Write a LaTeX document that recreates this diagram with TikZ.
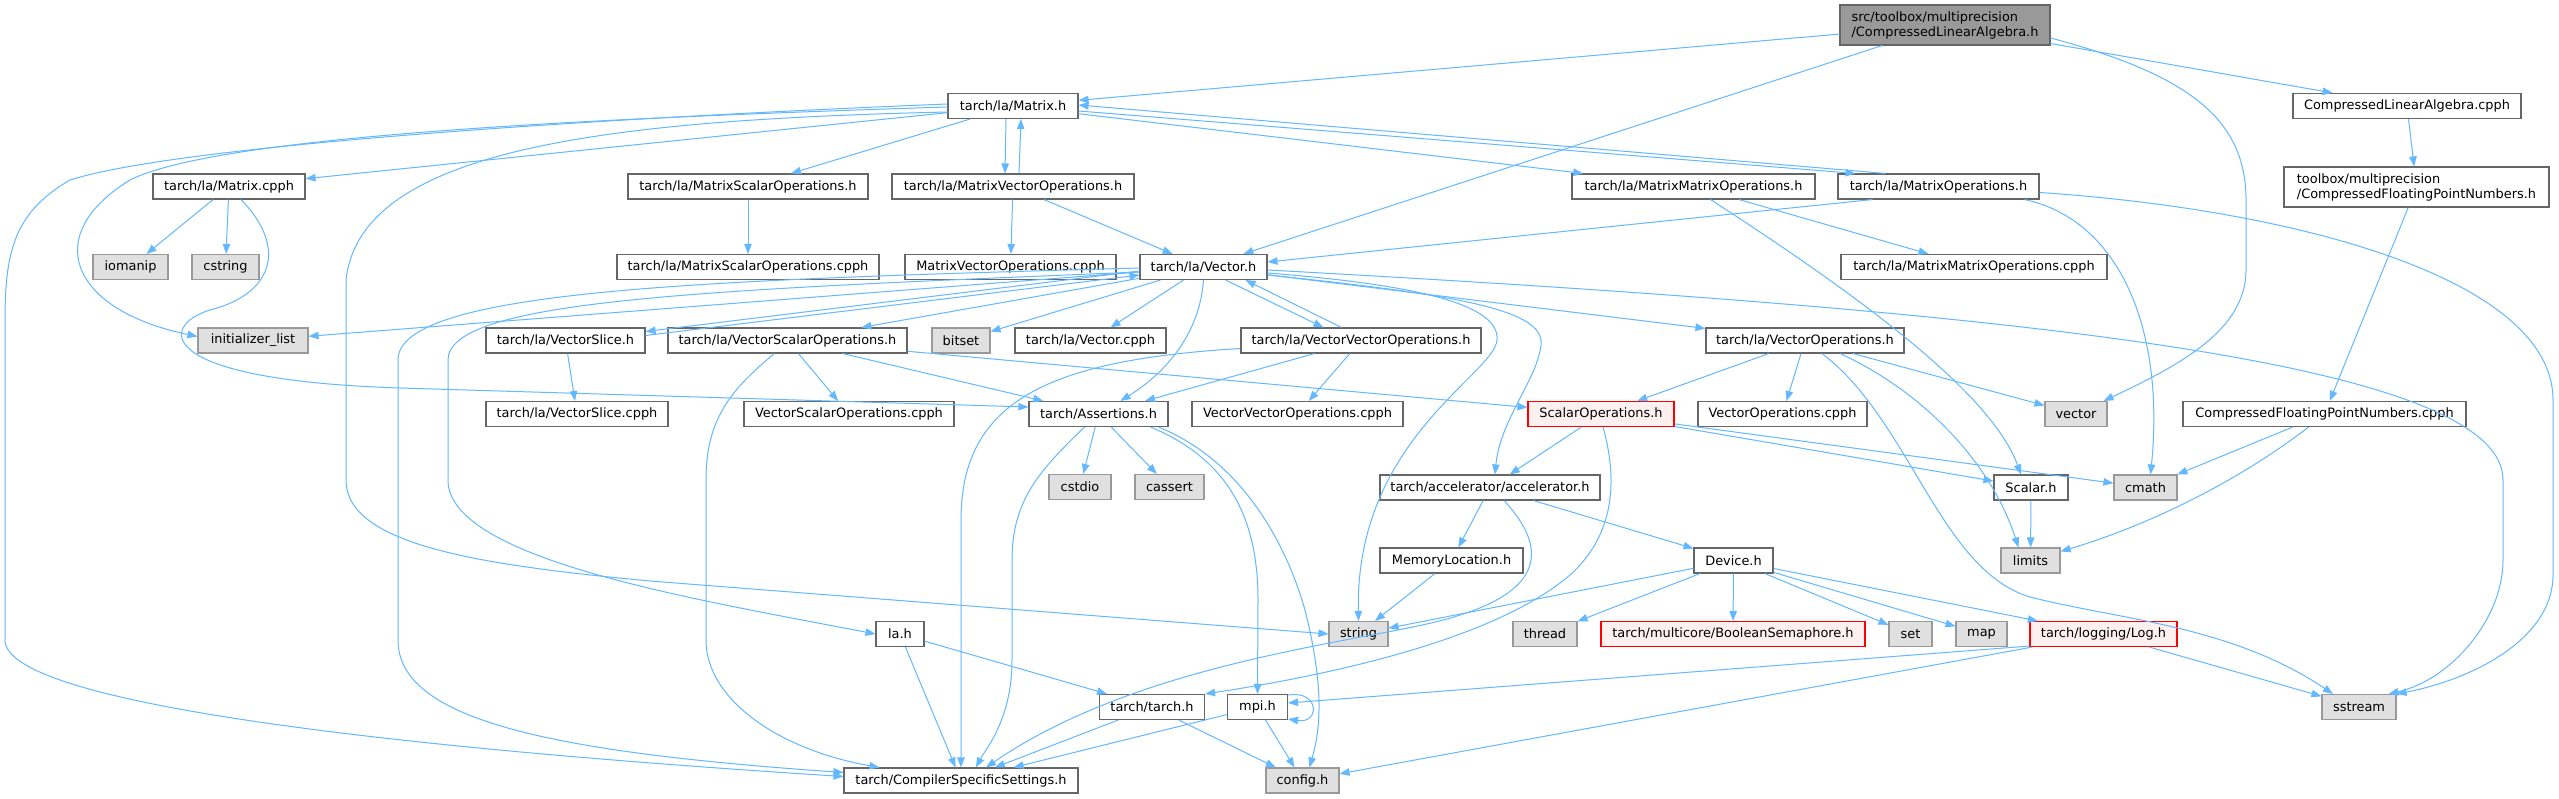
\documentclass[tikz,border=0pt]{standalone}
\usepackage{fontspec}
\setmainfont{DejaVu Sans}
\usepackage{tikz}
\usetikzlibrary{arrows.meta, calc}
\usepackage{xcolor}
\definecolor{edgeblue}{HTML}{63B8FF}
\definecolor{nodeborder}{HTML}{666666}
\definecolor{sysborder}{HTML}{999999}
\definecolor{sysfill}{HTML}{E0E0E0}
\definecolor{mainfill}{HTML}{999999}
\definecolor{redfill}{HTML}{FFF0F0}
\newcommand{\depfont}{\fontsize{12.9}{15}\selectfont}

\begin{document}
\begin{tikzpicture}[
    x=1pt, y=-1pt,
    filebox/.style={rectangle, draw=nodeborder, fill=white, line width=1.1pt,
                    minimum height=25pt, inner xsep=3pt, inner ysep=2pt, font=\depfont},
    sysbox/.style={filebox, draw=sysborder, fill=sysfill},
    redbox/.style={filebox, draw=red, fill=redfill},
    mainbox/.style={filebox, fill=mainfill, minimum height=40pt, align=left},
    twoline/.style={filebox, minimum height=40pt, align=left},
    dep/.style={-{Triangle[length=10pt, width=7.5pt]}, draw=edgeblue, line width=1pt},
]
    \path[use as bounding box, fill=white] (0,0) rectangle (2559,799);

    % Row 0/1: the file itself and what it pulls in first
    \node[mainbox, minimum width=210pt] (main) at (1945,25) {src/toolbox/multiprecision\\/CompressedLinearAlgebra.h};
    \node[filebox, minimum width=130pt] (matrixh) at (1013,106) {tarch/la/Matrix.h};
    \node[filebox, minimum width=228pt] (clacpph) at (2407,106) {CompressedLinearAlgebra.cpph};

    % Row 2: matrix headers
    \node[filebox, minimum width=152pt] (matrixcpph) at (229,186.5) {tarch/la/Matrix.cpph};
    \node[filebox, minimum width=240pt] (msoh) at (748,186.5) {tarch/la/MatrixScalarOperations.h};
    \node[filebox, minimum width=242pt] (mvoh) at (1013,186.5) {tarch/la/MatrixVectorOperations.h};
    \node[filebox, minimum width=243pt] (mmoh) at (1693.5,186.5) {tarch/la/MatrixMatrixOperations.h};
    \node[filebox, minimum width=201pt] (moh) at (1938.5,186.5) {tarch/la/MatrixOperations.h};
    \node[twoline, minimum width=265pt] (cfpnh) at (2416.5,187) {toolbox/multiprecision\\/CompressedFloatingPointNumbers.h};

    % Row 3
    \node[sysbox, minimum width=75pt] (iomanip) at (130.5,267) {iomanip};
    \node[sysbox, minimum width=67pt] (cstring) at (225.5,267) {cstring};
    \node[filebox, minimum width=262pt] (msocpph) at (748,267) {tarch/la/MatrixScalarOperations.cpph};
    \node[filebox, minimum width=211pt] (mvocpph) at (1010.5,267) {MatrixVectorOperations.cpph};
    \node[filebox, minimum width=127pt] (vectorh) at (1203.5,267) {tarch/la/Vector.h};
    \node[filebox, minimum width=266pt] (mmocpph) at (1974,267) {tarch/la/MatrixMatrixOperations.cpph};

    % Row 4: vector headers
    \node[sysbox, minimum width=110pt] (initlist) at (253,340.5) {initializer\_list};
    \node[filebox, minimum width=159pt] (vsliceh) at (565.5,340.5) {tarch/la/VectorSlice.h};
    \node[filebox, minimum width=239pt] (vsoh) at (787.5,340.5) {tarch/la/VectorScalarOperations.h};
    \node[sysbox, minimum width=58pt] (bitset) at (961,340.5) {bitset};
    \node[filebox, minimum width=151pt] (vectorcpph) at (1090.5,340.5) {tarch/la/Vector.cpph};
    \node[filebox, minimum width=240pt] (vvoh) at (1361,340.5) {tarch/la/VectorVectorOperations.h};
    \node[filebox, minimum width=198pt] (voh) at (1805,340.5) {tarch/la/VectorOperations.h};

    % Row 5
    \node[filebox, minimum width=182pt] (vslicecpph) at (577,414) {tarch/la/VectorSlice.cpph};
    \node[filebox, minimum width=210pt] (vsocpph) at (849,414) {VectorScalarOperations.cpph};
    \node[filebox, minimum width=139pt] (assertions) at (1098.5,414) {tarch/Assertions.h};
    \node[filebox, minimum width=211pt] (vvocpph) at (1297.5,414) {VectorVectorOperations.cpph};
    \node[redbox, minimum width=146pt] (scalaropsh) at (1601,414) {ScalarOperations.h};
    \node[filebox, minimum width=169pt] (vocpph) at (1782.5,414) {VectorOperations.cpph};
    \node[sysbox, minimum width=62pt] (vector) at (2076,414) {vector};
    \node[filebox, minimum width=283pt] (cfpncpph) at (2324.5,414) {CompressedFloatingPointNumbers.cpph};

    % Row 6
    \node[sysbox, minimum width=62pt] (cstdio) at (1080,487) {cstdio};
    \node[sysbox, minimum width=69pt] (cassert) at (1169.5,487) {cassert};
    \node[filebox, minimum width=220pt] (accelh) at (1490,487.5) {tarch/accelerator/accelerator.h};
    \node[filebox, minimum width=74pt] (scalarh) at (2031,487.5) {Scalar.h};
    \node[sysbox, minimum width=63pt] (cmath) at (2145.5,487.5) {cmath};

    % Row 7
    \node[filebox, minimum width=143pt] (memloc) at (1451.5,560.5) {MemoryLocation.h};
    \node[filebox, minimum width=79pt] (deviceh) at (1733.5,560.5) {Device.h};
    \node[sysbox, minimum width=59pt] (limits) at (2030.5,560.5) {limits};

    % Row 8
    \node[filebox, minimum width=48pt] (lah) at (900,634) {la.h};
    \node[sysbox, minimum width=59pt] (string) at (1358.5,634) {string};
    \node[sysbox, minimum width=64pt] (thread) at (1545,634) {thread};
    \node[redbox, minimum width=264pt] (boolsem) at (1733,634) {tarch/multicore/BooleanSemaphore.h};
    \node[sysbox, minimum width=43pt] (set) at (1910.5,634) {set};
    \node[sysbox, minimum width=51pt] (map) at (1981.5,634) {map};
    \node[redbox, minimum width=147pt] (logh) at (2103.5,634) {tarch/logging/Log.h};

    % Row 9/10
    \node[filebox, minimum width=105pt] (tarchh) at (1152,707) {tarch/tarch.h};
    \node[filebox, minimum width=60pt] (mpih) at (1257.5,707) {mpi.h};
    \node[sysbox, minimum width=74pt] (sstream) at (2359,707) {sstream};
    \node[filebox, minimum width=234pt] (compiler) at (961,780.5) {tarch/CompilerSpecificSettings.h};
    \node[sysbox, minimum width=73pt] (configh) at (1302.5,780.5) {config.h};

    % Connections: main file
    \draw[dep] (main) -- (matrixh);
    \draw[dep] (main) -- (vectorh);
    \draw[dep] ($(main.east)+(0,13)$) .. controls (2190,75) and (2246,120) .. (2246,200) -- (2246,270)
        .. controls (2246,330) and (2180,365) .. ($(vector.north east)+(-4,0)$);
    \draw[dep] (main) -- (clacpph);
    \draw[dep] (clacpph) -- (cfpnh);
    \draw[dep] (cfpnh) -- (cfpncpph);
    \draw[dep] (cfpncpph) -- (cmath);
    \draw[dep] ($(cfpncpph.south)+(-16,0)$) .. controls (2240,480) and (2150,525) .. ($(limits.north east)+(0,4)$);

    % Matrix.h
    \draw[dep] (matrixh) -- (matrixcpph);
    \draw[dep] ($(matrixh.west)+(0,1)$) .. controls (600,118) and (220,135) .. (130,180)
        .. controls (40,235) and (70,310) .. ($(initlist.west)+(0,-4)$);
    \draw[dep] ($(matrixh.west)+(0,-2)$) .. controls (600,118) and (180,145) .. (70,180)
        .. controls (15,212) and (5,250) .. (5,320) -- (5,640)
        .. controls (5,700) and (350,745) .. ($(compiler.west)+(0,-4)$);
    \draw[dep] ($(matrixh.west)+(0,6)$) .. controls (600,120) and (360,150) .. (346,280) -- (346,480)
        .. controls (346,545) and (480,565) .. (650,581) -- (string.west);
    \draw[dep] (matrixh) -- (msoh);
    \draw[dep] ($(matrixh.south)+(-7,0)$) -- ($(mvoh.north)+(-8,0)$);
    \draw[dep] ($(mvoh.north)+(6,0)$) -- ($(matrixh.south)+(8,0)$);
    \draw[dep] (matrixh) -- (mmoh);
    \draw[dep] ($(matrixh.east)+(0,5)$) -- ($(moh.north west)+(18,0)$);
    \draw[dep] ($(moh.north west)+(48,0)$) -- ($(matrixh.east)+(0,-1)$);

    % Matrix.cpph
    \draw[dep] (matrixcpph) -- (iomanip);
    \draw[dep] (matrixcpph) -- (cstring);
    \draw[dep] ($(matrixcpph.south)+(12,0)$) .. controls (290,250) and (270,295) .. (210,310)
        .. controls (160,325) and (150,380) .. (400,388) -- ($(assertions.west)+(0,-7)$);

    % matrix operations
    \draw[dep] (msoh) -- (msocpph);
    \draw[dep] (mvoh) -- (mvocpph);
    \draw[dep] (mvoh) -- (vectorh);
    \draw[dep] (mmoh) -- (mmocpph);
    \draw[dep] ($(mmoh.south)+(17,0)$) .. controls (1850,290) and (1990,390) .. ($(scalarh.north)+(-10,0)$);
    \draw[dep] ($(moh.south west)+(35,0)$) -- ($(vectorh.east)+(0,-5)$);
    \draw[dep] ($(moh.south east)+(-15,0)$) .. controls (2120,220) and (2165,330) .. ($(cmath.north)+(5,0)$);
    \draw[dep] ($(moh.east)+(0,6)$) .. controls (2300,210) and (2553,280) .. (2553,400) -- (2553,575)
        .. controls (2553,640) and (2470,680) .. (sstream.north east);

    % Vector.h
    \draw[dep] (vectorh) -- (initlist);
    \draw[dep] ($(vectorh.west)+(0,4)$) -- ($(vsliceh.east)+(0,-9)$);
    \draw[dep] ($(vsliceh.east)+(0,-5)$) -- ($(vectorh.west)+(0,8)$);
    \draw[dep] (vectorh) -- (vsoh);
    \draw[dep] (vectorh) -- (bitset);
    \draw[dep] (vectorh) -- (vectorcpph);
    \draw[dep] ($(vectorh.south east)+(-42,0)$) -- ($(vvoh.north west)+(83,0)$);
    \draw[dep] ($(vvoh.north west)+(101,0)$) -- ($(vectorh.south east)+(-22,0)$);
    \draw[dep] (vectorh) -- (voh);
    \draw[dep] (vectorh.south) .. controls (1200,330) and (1170,370) .. ($(assertions.north)+(22,0)$);
    \draw[dep] ($(vectorh.east)+(0,6)$) .. controls (1420,285) and (1500,305) .. (1497,340)
        .. controls (1494,375) and (1355,440) .. (string.north);
    \draw[dep] ($(vectorh.east)+(0,8)$) .. controls (1460,295) and (1545,310) .. (1541,345)
        .. controls (1537,380) and (1500,420) .. ($(accelh.north)+(5,0)$);
    \draw[dep] ($(vectorh.east)+(0,3)$) .. controls (2000,310) and (2503,360) .. (2503,480) -- (2503,560)
        .. controls (2503,620) and (2450,680) .. ($(sstream.north east)+(-8,0)$);
    \draw[dep] ($(vectorh.west)+(0,5)$) .. controls (700,290) and (448,300) .. (448,360) -- (448,480)
        .. controls (448,560) and (700,600) .. (lah.west);
    \draw[dep] ($(vectorh.west)+(0,1)$) .. controls (700,280) and (398,290) .. (398,360) -- (398,640)
        .. controls (398,720) and (550,752) .. ($(compiler.west)+(0,-8)$);

    % slices and vector operations
    \draw[dep] (vsliceh) -- (vslicecpph);
    \draw[dep] (vsoh) -- (vsocpph);
    \draw[dep] (vsoh) -- (assertions);
    \draw[dep] (vsoh) -- (scalaropsh);
    \draw[dep] ($(vsoh.south)+(-13,0)$) .. controls (730,390) and (706,420) .. (706,480) -- (706,640)
        .. controls (706,700) and (780,750) .. ($(compiler.north west)+(36,0)$);
    \draw[dep] (vvoh) -- (vvocpph);
    \draw[dep] (vvoh) -- (assertions);
    \draw[dep] ($(vvoh.west)+(0,8)$) .. controls (1050,360) and (961,400) .. (961,520) -- (compiler.north);
    \draw[dep] (voh) -- (scalaropsh);
    \draw[dep] (voh) -- (vocpph);
    \draw[dep] (voh) -- (vector);
    \draw[dep] ($(voh.south)+(35,0)$) .. controls (1920,390) and (1990,460) .. ($(limits.north)+(-12,0)$);
    \draw[dep] ($(voh.south)+(17,0)$) .. controls (1910,420) and (1940,570) .. (2030,597)
        .. controls (2120,620) and (2230,625) .. ($(sstream.north)+(-26,0)$);

    % Assertions.h
    \draw[dep] (assertions) -- (cstdio);
    \draw[dep] (assertions) -- (cassert);
    \draw[dep] ($(assertions.south)+(-14,0)$) .. controls (1040,470) and (1012,500) .. (1012,560) -- (1012,660)
        .. controls (1012,720) and (985,750) .. ($(compiler.north)+(15,0)$);
    \draw[dep] ($(assertions.south east)+(-18,0)$) .. controls (1230,460) and (1258,520) .. (1258,600) -- (mpih.north);
    \draw[dep] ($(assertions.south east)+(-10,0)$) .. controls (1240,460) and (1285,540) .. (1305,610)
        .. controls (1325,690) and (1320,730) .. ($(configh.north)+(7,0)$);

    % ScalarOperations.h
    \draw[dep] (scalaropsh) -- (accelh);
    \draw[dep] (scalaropsh) -- (cmath);
    \draw[dep] (scalaropsh) -- (scalarh);
    \draw[dep] ($(scalaropsh.south)+(2,0)$) .. controls (1615,470) and (1620,530) .. (1570,575)
        .. controls (1500,635) and (1350,672) .. (tarchh.north east);
    \draw[dep] (scalarh) -- (limits);

    % accelerator
    \draw[dep] (accelh) -- (memloc);
    \draw[dep] (accelh) -- (deviceh);
    \draw[dep] ($(accelh.south)+(14,0)$) .. controls (1550,550) and (1540,590) .. (1460,615)
        .. controls (1390,640) and (1150,655) .. ($(compiler.north)+(25,0)$);
    \draw[dep] (memloc) -- (string);
    \draw[dep] (deviceh) -- (string);
    \draw[dep] (deviceh) -- (thread);
    \draw[dep] (deviceh) -- (boolsem);
    \draw[dep] (deviceh) -- (set);
    \draw[dep] (deviceh) -- (map);
    \draw[dep] (deviceh) -- (logh);

    % Log.h
    \draw[dep] ($(logh.south west)+(0,-1)$) -- ($(mpih.east)+(0,-4)$);
    \draw[dep] (logh) -- (configh);
    \draw[dep] (logh) -- (sstream);

    % bottom
    \draw[dep] (lah) -- (tarchh);
    \draw[dep] (lah) -- (compiler);
    \draw[dep] (tarchh) -- (compiler);
    \draw[dep] (tarchh) -- (configh);
    \draw[dep] (mpih) -- (compiler);
    \draw[dep] (mpih) -- (configh);
    \draw[dep] ($(mpih.east)+(0,-12)$) .. controls (1320,690) and (1320,724) .. ($(mpih.east)+(0,12)$);
\end{tikzpicture}
\end{document}
